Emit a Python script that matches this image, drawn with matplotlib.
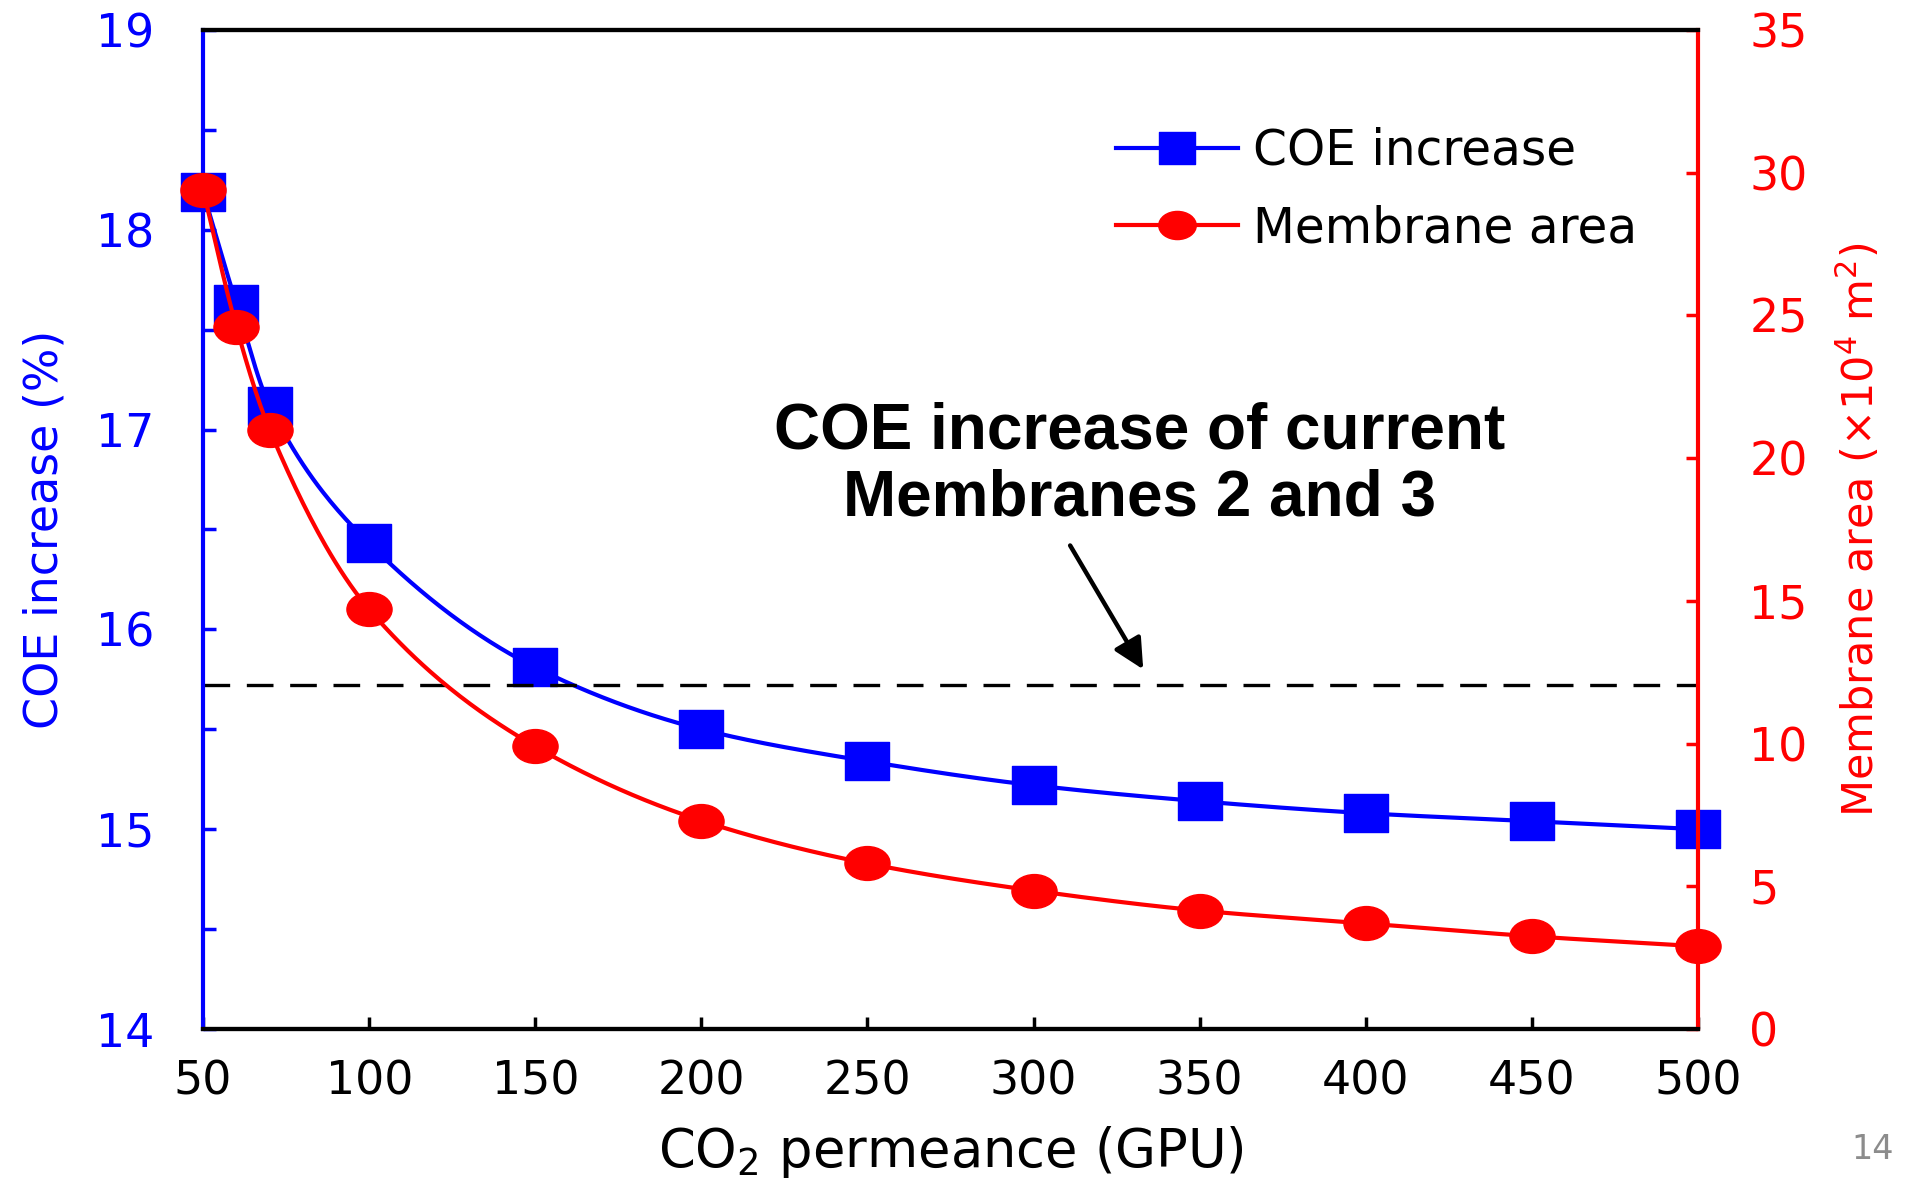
import numpy as np
import matplotlib
matplotlib.use('Agg')
import matplotlib.pyplot as plt
from matplotlib.path import Path
from matplotlib.lines import Line2D

# CO2 permeance (GPU)
permeance = [50, 60, 70, 100, 150, 200, 250, 300, 350, 400, 450, 500]
# COE increase (%)
coe_increase = [18.19, 17.63, 17.12, 16.43, 15.81, 15.50, 15.34, 15.22, 15.14, 15.08, 15.04, 15.00]
# membrane area (x10^4 m2)
membrane_area = [29.4, 24.6, 21.0, 14.7, 9.9, 7.3, 5.8, 4.85, 4.15, 3.7, 3.25, 2.9]
# COE increase of current membranes 2 and 3
coe_current = 15.72

x_ticks = [50, 100, 150, 200, 250, 300, 350, 400, 450, 500]


def pchip(x, y, xs):
    '''monotone cubic curve through the points'''
    x = np.asarray(x, float)
    y = np.asarray(y, float)
    h = np.diff(x)
    d = np.diff(y) / h
    m = np.zeros_like(y)
    for k in range(1, len(x) - 1):
        if d[k - 1] * d[k] > 0:
            w1 = 2 * h[k] + h[k - 1]
            w2 = h[k] + 2 * h[k - 1]
            m[k] = (w1 + w2) / (w1 / d[k - 1] + w2 / d[k])
    m[0] = d[0]
    m[-1] = d[-1]
    idx = np.clip(np.searchsorted(x, xs) - 1, 0, len(x) - 2)
    t = (xs - x[idx]) / h[idx]
    h00 = 2 * t**3 - 3 * t**2 + 1
    h10 = t**3 - 2 * t**2 + t
    h01 = -2 * t**3 + 3 * t**2
    h11 = t**3 - t**2
    return h00 * y[idx] + h10 * h[idx] * m[idx] + h01 * y[idx + 1] + h11 * h[idx] * m[idx + 1]


# slightly flattened markers
square = Path([(-0.5, -0.43), (0.5, -0.43), (0.5, 0.43), (-0.5, 0.43), (-0.5, -0.43)],
              [Path.MOVETO, Path.LINETO, Path.LINETO, Path.LINETO, Path.CLOSEPOLY])
circ = Path.unit_circle()
ellipse = Path(circ.vertices * [1.0, 0.75], circ.codes)

plt.rcParams['font.family'] = 'DejaVu Sans'
plt.rcParams['mathtext.fontset'] = 'dejavusans'

fig = plt.figure(figsize=(19.07, 11.79), dpi=100)
ax1 = fig.add_axes([0.1065, 0.1272, 0.7839, 0.8474])
ax2 = ax1.twinx()

xs = np.linspace(50, 500, 600)
ax1.plot(xs, pchip(permeance, coe_increase, xs), color='blue', lw=3)
ax1.plot(permeance, coe_increase, ls='none', marker=square, ms=31.5, color='blue', clip_on=False)
ax2.plot(xs, pchip(permeance, membrane_area, xs), color='red', lw=3)
ax2.plot(permeance, membrane_area, ls='none', marker=ellipse, ms=32.5, color='red', clip_on=False)

ax1.plot([50, 500], [coe_current, coe_current], color='black', lw=2.4, ls=(0, (8, 5)))

ax1.text(332, 16.825, 'COE increase of current\nMembranes 2 and 3', ha='center', va='center',
         fontsize=46, fontweight='bold', family=['Liberation Sans', 'DejaVu Sans'], linespacing=1.15)
ax1.annotate('', xy=(333, 15.80), xytext=(311, 16.42),
             arrowprops=dict(arrowstyle='-|>', lw=3.2, color='black', mutation_scale=46,
                             shrinkA=0, shrinkB=0))

ax1.set_xlim(50, 500)
ax1.set_ylim(14, 19)
ax2.set_ylim(0, 35)
ax1.set_xticks(x_ticks)
ax1.set_yticks([14, 15, 16, 17, 18, 19])
ax1.set_yticks(np.arange(14.5, 19, 1.0), minor=True)
ax2.set_yticks([0, 5, 10, 15, 20, 25, 30, 35])

ax1.tick_params(axis='x', direction='in', length=9, width=2.5, labelsize=33, pad=22,
                colors='black')
ax1.tick_params(axis='y', which='both', direction='in', length=9, width=2.5, labelsize=33,
                pad=35, colors='blue')
ax2.tick_params(axis='y', direction='in', length=9, width=2.5, labelsize=33, pad=37,
                colors='red')

for ax in (ax1, ax2):
    for s in ax.spines.values():
        s.set_linewidth(3)
        s.set_color('black')
ax1.spines['left'].set_color('blue')
ax2.spines['right'].set_color('red')
ax1.spines['right'].set_visible(False)
ax2.spines['left'].set_visible(False)

ax1.set_xlabel('CO$_2$ permeance (GPU)', fontsize=38, va='center')
ax1.xaxis.set_label_coords(0.5, -0.123)
ax1.set_ylabel('COE increase (%)', fontsize=33, color='blue', va='center')
ax1.yaxis.set_label_coords(-0.106, 0.5)
ax2.set_ylabel('Membrane area (×10$^4$ m$^2$)', fontsize=31, color='red', va='center')
ax2.yaxis.set_label_coords(1.108, 0.5)

handles = [Line2D([], [], color='blue', lw=3, marker=square, ms=26),
           Line2D([], [], color='red', lw=3, marker=ellipse, ms=27)]
ax2.legend(handles, ['COE increase', 'Membrane area'], loc='upper left',
           bbox_to_anchor=(0.611, 0.903), frameon=False, fontsize=35, borderpad=0,
           borderaxespad=0, handlelength=2.5, handletextpad=0.3, labelspacing=0.6)

fig.text(0.982, 0.0254, '14', color='#8c8c8c', fontsize=24, ha='center', va='center')

fig.savefig('out.png', dpi=100)
